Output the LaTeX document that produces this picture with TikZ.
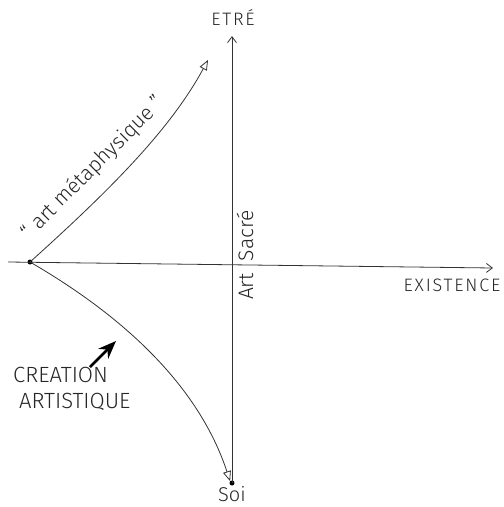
\documentclass[tikz,border=0pt]{standalone}
\usepackage{fontspec}
\setmainfont{Fira Sans Light}
\usetikzlibrary{arrows.meta}
\begin{document}
\begin{tikzpicture}[x=1pt,y=-1pt,
  ink/.style={draw=black!80, line width=0.8pt},
  dotnode/.style={circle, fill=black, inner sep=0pt, minimum size=5pt},
  lbl/.style={inner sep=1pt, text=black!85},
  capsfont/.style={font=\fontsize{18}{20}\selectfont\addfontfeature{LetterSpace=10}},
  opentip/.style={-{Triangle[open,length=10pt,width=8pt]}},
  axtip/.style={-{Straight Barb[length=6pt,width=9pt]}}]
\useasboundingbox (0,0) rectangle (504,507);
% points
\node[dotnode] (O) at (30,262) {};
\node[dotnode] (S) at (232,483) {};
\coordinate (Hs) at (8,262);
\coordinate (He) at (493,268);
\coordinate (Vt) at (232,36);
\coordinate (M) at (208,60);
% axes
\draw[ink, axtip] (Hs) -- (He);
\draw[ink, axtip] (S.center) -- (Vt);
% curves
\draw[ink, opentip] (O.center) .. controls (110,190) and (170,130) .. (M);
\draw[ink, opentip] (O.center) .. controls (130,320) and (200,390) .. (S.north west);
% labels
\node[lbl, capsfont] (etre) at (233,18) {ETRÉ};
\node[lbl, capsfont] (exist) at (452,285) {EXISTENCE};
\node[lbl, font=\fontsize{20}{22}\selectfont, anchor=north, inner sep=0pt] (soi) at (232,486) {Soi};
\node[lbl, font=\fontsize{21}{24}\selectfont, rotate=90] (sacre) at (245,255) {Art\hspace{12pt}Sacré};
\node[lbl, font=\fontsize{22}{26}\selectfont, align=left, anchor=north west] (crea) at (12,366) {CREATION\\[0pt]\hspace{6pt}ARTISTIQUE};
\coordinate (Ca) at (90,367);
\coordinate (Cb) at (116,341);
\draw[black, line width=2.5pt, -{Stealth[length=18pt,width=14pt]}] (Ca) -- (Cb);
\node[lbl, font=\fontsize{21}{24}\selectfont, rotate=45] (meta) at (93,168) {“ art métaphysique ”};
\end{tikzpicture}
\end{document}
